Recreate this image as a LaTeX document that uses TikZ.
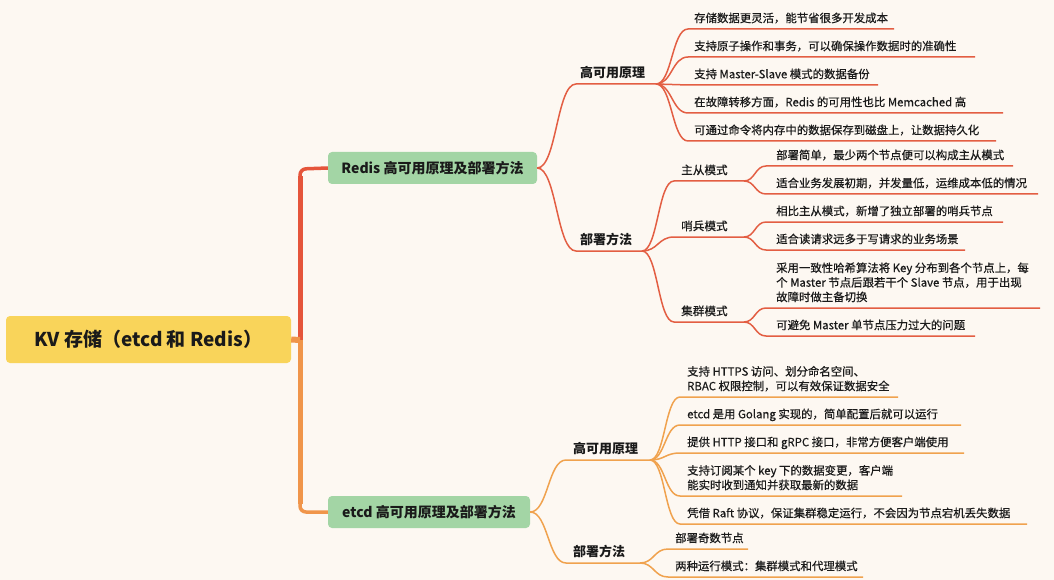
\documentclass[tikz,border=0pt]{standalone}
\usepackage{fontspec}
\setmainfont{Noto Sans CJK SC}
\newfontfamily\mmmed{Noto Sans CJK SC}[FakeBold=0.5]
\usetikzlibrary{calc}
\definecolor{bg}{HTML}{FDF8F2}
\definecolor{rootc}{HTML}{F9D45A}
\definecolor{boxc}{HTML}{A3D5A5}
\definecolor{redc}{HTML}{E35E43}
\definecolor{orac}{HTML}{F0A24E}
\definecolor{trunkr}{HTML}{E5553B}
\definecolor{trunko}{HTML}{F0954A}
\definecolor{txt}{HTML}{1A1A1A}
\tikzset{
  leaf/.style={inner sep=0pt, align=left, text=txt, anchor=south west, text depth=2.5pt,
    font=\mmmed\fontsize{11.4}{14.6}\selectfont},
  midtopic/.style={inner sep=0pt, text=txt, anchor=south west, text depth=2.5pt,
    font=\mmmed\fontsize{11.6}{14}\selectfont},
  subtopic/.style={inner sep=0pt, text=txt, anchor=south west, text depth=2.5pt,
    font=\bfseries\fontsize{13}{15}\selectfont},
  branchbox/.style={fill=boxc, rounded corners=4pt, text=txt, inner sep=0pt,
    font=\bfseries\fontsize{14}{16}\selectfont},
  rootbox/.style={fill=rootc, rounded corners=4pt, text=txt, inner sep=0pt,
    font=\bfseries\fontsize{19}{22}\selectfont},
  rline/.style={draw=redc, line width=1.5pt},
  oline/.style={draw=orac, line width=1.5pt},
}
% #1 name, #2 line style, #3 parent coord, #4 start x, #5 line y, #6 end x, #7 text x, #8 text, #9 node style
\newcommand{\mmitem}[9]{%
  \coordinate (#1-s) at (#4,#5);
  \coordinate (#1-e) at (#6,#5);
  \node[#9] (#1) at (#7,#5-4) {#8};
  \draw[#2] let \p1=(#3), \p2=(#1-s) in
    (\p1) .. controls ({0.5*\x1+0.5*\x2},\y1) and ({0.5*\x1+0.5*\x2},\y2) .. (\p2) -- (#1-e);
}
\begin{document}
\begin{tikzpicture}[x=1pt,y=-1pt]
\fill[bg] (0,0) rectangle (1054,580);
\useasboundingbox (0,0) rectangle (1054,580);

% root
\node[rootbox, minimum width=285pt, minimum height=47pt] (root) at (148.5,339.5) {KV 存储（etcd 和 Redis）};
% branch boxes
\node[branchbox, minimum width=209pt, minimum height=32pt] (redis) at (432.5,168) {Redis 高可用原理及部署方法};
\node[branchbox, minimum width=202pt, minimum height=32pt] (etcd) at (429,512) {etcd 高可用原理及部署方法};

% trunk
\coordinate (tj) at (300,340);
\draw[trunkr, line width=5pt] (tj) -- (300,176);
\draw[trunkr, line width=3.5pt, rounded corners=6pt] (300,178) -- (300,169) -- (redis.west);
\draw[trunko, line width=5pt] (tj) -- (300,504);
\draw[trunko, line width=3.5pt, rounded corners=6pt] (300,502) -- (300,512) -- (etcd.west);
\draw[trunko, line width=6pt] (root.east) -- (tj);

% ---------- Redis ----------
\mmitem{rh}{rline}{redis.east}{576}{84}{656}{580}{高可用原理}{subtopic}
\mmitem{rh1}{rline}{rh-e}{688}{29}{894}{694}{存储数据更灵活，能节省很多开发成本}{leaf}
\mmitem{rh2}{rline}{rh-e}{688}{57}{975}{694}{支持原子操作和事务，可以确保操作数据时的准确性}{leaf}
\mmitem{rh3}{rline}{rh-e}{688}{85}{878}{694}{支持 Master-Slave 模式的数据备份}{leaf}
\mmitem{rh4}{rline}{rh-e}{688}{113}{1003}{694}{在故障转移方面，Redis 的可用性也比 Memcached 高}{leaf}
\mmitem{rh5}{rline}{rh-e}{688}{141}{996}{694}{可通过命令将内存中的数据保存到磁盘上，让数据持久化}{leaf}

\mmitem{rd}{rline}{redis.east}{576}{251}{642}{580}{部署方法}{subtopic}
\mmitem{rm}{rline}{rd-e}{674}{181}{744}{681}{主从模式}{midtopic}
\mmitem{rm1}{rline}{rm-e}{766}{166}{1013}{776}{部署简单，最少两个节点便可以构成主从模式}{leaf}
\mmitem{rm2}{rline}{rm-e}{766}{194}{1038}{776}{适合业务发展初期，并发量低，运维成本低的情况}{leaf}
\mmitem{rs}{rline}{rd-e}{674}{237}{744}{681}{哨兵模式}{midtopic}
\mmitem{rs1}{rline}{rs-e}{766}{222}{1003}{776}{相比主从模式，新增了独立部署的哨兵节点}{leaf}
\mmitem{rs2}{rline}{rs-e}{766}{250}{965}{776}{适合读请求远多于写请求的业务场景}{leaf}
\mmitem{rc}{rline}{rd-e}{674}{322}{744}{681}{集群模式}{midtopic}
\mmitem{rc1}{rline}{rc-e}{766}{308}{1040}{776}{采用一致性哈希算法将 Key 分布到各个节点上，每\\个 Master 节点后跟若干个 Slave 节点，用于出现\\故障时做主备切换}{leaf}
\mmitem{rc2}{rline}{rc-e}{766}{336}{975}{776}{可避免 Master 单节点压力过大的问题}{leaf}

% ---------- etcd ----------
\mmitem{eh}{oline}{etcd.east}{566}{460}{650}{573}{高可用原理}{subtopic}
\mmitem{eh1}{oline}{eh-e}{680}{397}{898}{687}{支持 HTTPS 访问、划分命名空间、\\RBAC 权限控制，可以有效保证数据安全}{leaf}
\mmitem{eh2}{oline}{eh-e}{680}{425}{961}{687}{etcd 是用 Golang 实现的，简单配置后就可以运行}{leaf}
\mmitem{eh3}{oline}{eh-e}{680}{453}{964}{687}{提供 HTTP 接口和 gRPC 接口，非常方便客户端使用}{leaf}
\mmitem{eh4}{oline}{eh-e}{680}{496}{902}{687}{支持订阅某个 key 下的数据变更，客户端\\能实时收到通知并获取最新的数据}{leaf}
\mmitem{eh5}{oline}{eh-e}{680}{524}{1027}{687}{凭借 Raft 协议，保证集群稳定运行，不会因为节点宕机丢失数据}{leaf}

\mmitem{ed}{oline}{etcd.east}{566}{563}{640}{573}{部署方法}{subtopic}
\mmitem{ed1}{oline}{ed-e}{668}{549}{748}{675}{部署奇数节点}{leaf}
\mmitem{ed2}{oline}{ed-e}{668}{577}{863}{675}{两种运行模式：集群模式和代理模式}{leaf}
\end{tikzpicture}
\end{document}
